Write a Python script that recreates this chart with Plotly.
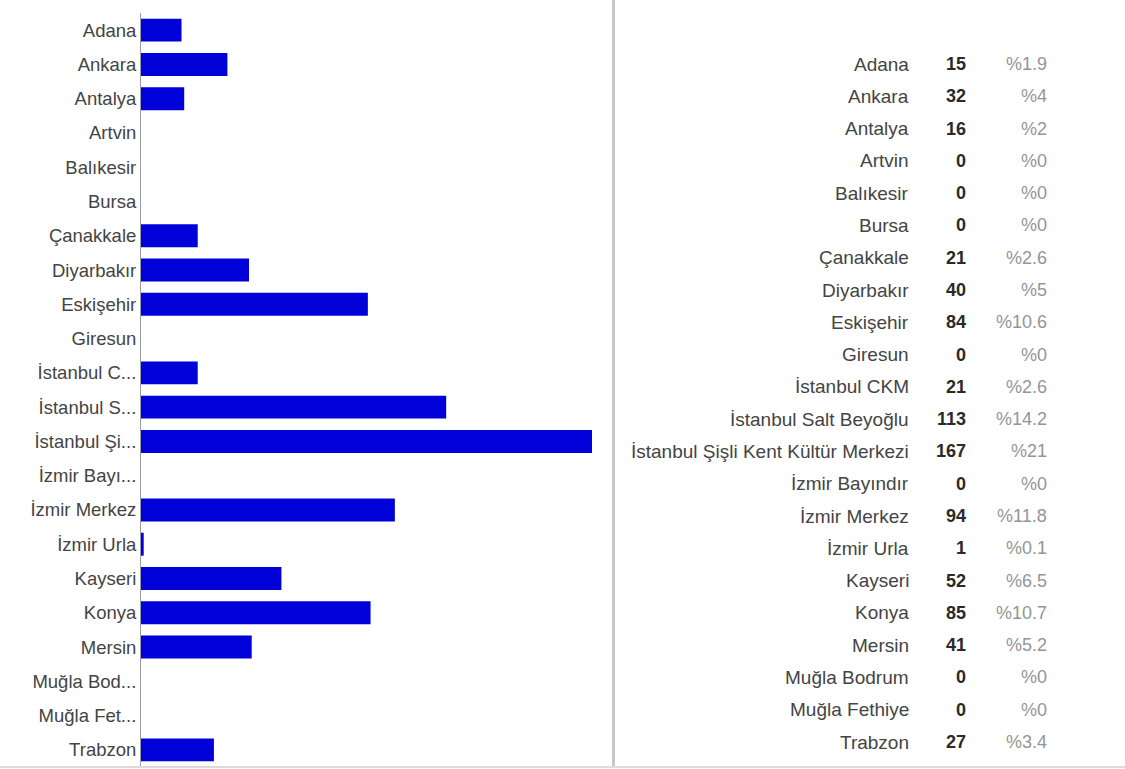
import plotly.graph_objects as go

W, H = 1125, 769

cities = ["Adana", "Ankara", "Antalya", "Artvin", "Balıkesir", "Bursa", "Çanakkale",
          "Diyarbakır", "Eskişehir", "Giresun", "İstanbul CKM", "İstanbul Salt Beyoğlu",
          "İstanbul Şişli Kent Kültür Merkezi", "İzmir Bayındır", "İzmir Merkez",
          "İzmir Urla", "Kayseri", "Konya", "Mersin", "Muğla Bodrum", "Muğla Fethiye",
          "Trabzon"]
tick_labels = ["Adana", "Ankara", "Antalya", "Artvin", "Balıkesir", "Bursa", "Çanakkale",
               "Diyarbakır", "Eskişehir", "Giresun", "İstanbul C...", "İstanbul S...",
               "İstanbul Şi...", "İzmir Bayı...", "İzmir Merkez", "İzmir Urla", "Kayseri",
               "Konya", "Mersin", "Muğla Bod...", "Muğla Fet...", "Trabzon"]
counts = [15, 32, 16, 0, 0, 0, 21, 40, 84, 0, 21, 113, 167, 0, 94, 1, 52, 85, 41, 0, 0, 27]
percents = ["%1.9", "%4", "%2", "%0", "%0", "%0", "%2.6", "%5", "%10.6", "%0", "%2.6",
            "%14.2", "%21", "%0", "%11.8", "%0.1", "%6.5", "%10.7", "%5.2", "%0", "%0", "%3.4"]

n = len(cities)

FONT = "Arial, Liberation Sans, sans-serif"

fig = go.Figure()
fig.add_trace(go.Bar(
    x=counts, y=cities, orientation="h",
    marker=dict(color="#0000d8", line=dict(width=0)),
    hoverinfo="x+y",
))

top_px, bot_px = 13, 767
fig.update_layout(
    width=W, height=H,
    margin=dict(l=0, r=0, t=0, b=0),
    paper_bgcolor="white", plot_bgcolor="white",
    showlegend=False,
    bargap=0.33,
    font=dict(family=FONT, size=18, color="#444444"),
    xaxis=dict(domain=[141 / W, 592 / W], range=[0, max(counts)],
               showgrid=False, zeroline=False, showticklabels=False, showline=False),
    yaxis=dict(domain=[1 - bot_px / H, 1 - top_px / H], autorange="reversed",
               tickmode="array", tickvals=cities, ticktext=tick_labels,
               showline=True, linecolor="#9a9aa8", linewidth=1, ticks="",
               showgrid=False, tickfont=dict(size=18.5, color="#444444")),
)

# separator and bottom line
fig.add_shape(type="line", xref="paper", yref="paper", x0=613.5 / W, x1=613.5 / W,
              y0=1 - 766 / H, y1=1, line=dict(color="#c8c8c8", width=3))
fig.add_shape(type="line", xref="paper", yref="paper", x0=0, x1=1,
              y0=1 - 767 / H, y1=1 - 767 / H, line=dict(color="#dcdcdc", width=2))

# table on the right
first_y, last_y = 64, 742
step = (last_y - first_y) / (n - 1)
for i in range(n):
    yp = 1 - (first_y + i * step) / H
    fig.add_annotation(x=911 / W, y=yp, xref="paper", yref="paper", text=cities[i],
                       xanchor="right", yanchor="middle", showarrow=False,
                       font=dict(family=FONT, size=19, color="#444444"))
    fig.add_annotation(x=968 / W, y=yp, xref="paper", yref="paper", text="<b>%d</b>" % counts[i],
                       xanchor="right", yanchor="middle", showarrow=False,
                       font=dict(family=FONT, size=18, color="#2a2a2a"))
    fig.add_annotation(x=1049 / W, y=yp, xref="paper", yref="paper", text=percents[i],
                       xanchor="right", yanchor="middle", showarrow=False,
                       font=dict(family=FONT, size=18, color="#959595"))

fig.write_html("out.html", config={"displayModeBar": False},
               post_script="document.body.style.margin='0';")
